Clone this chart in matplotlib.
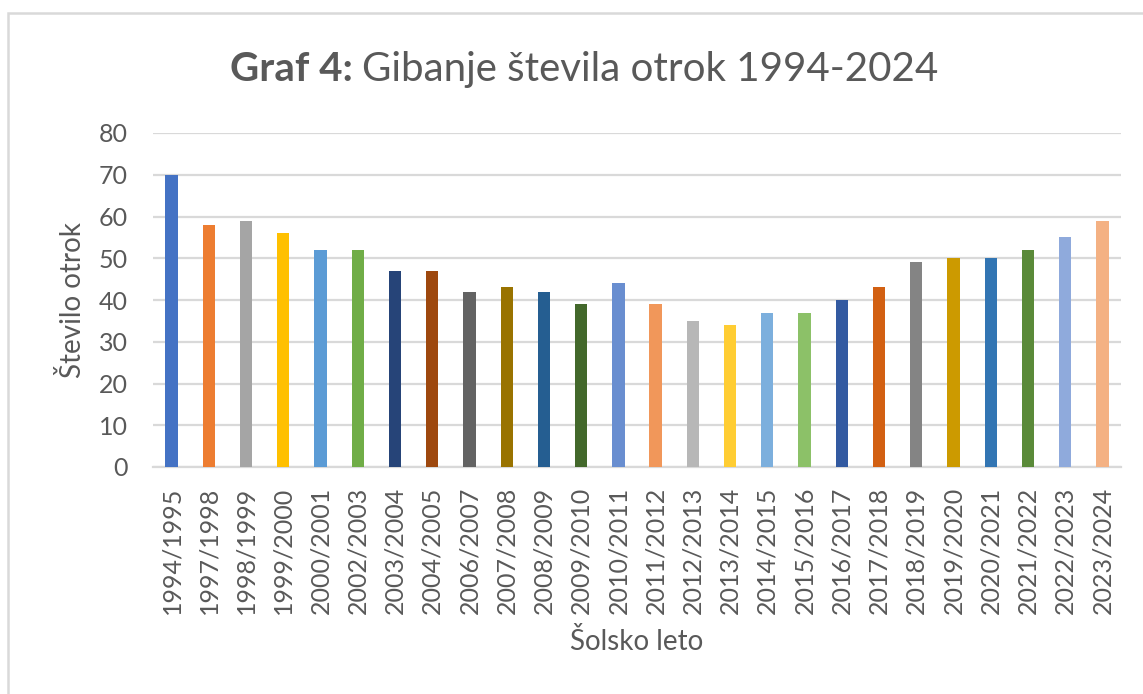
import matplotlib
matplotlib.use("Agg")
from matplotlib import pyplot as plt
from matplotlib.patches import Rectangle

# School years and number of children
years = ["1994/1995", "1997/1998", "1998/1999", "1999/2000", "2000/2001",
         "2002/2003", "2003/2004", "2004/2005", "2006/2007", "2007/2008",
         "2008/2009", "2009/2010", "2010/2011", "2011/2012", "2012/2013",
         "2013/2014", "2014/2015", "2015/2016", "2016/2017", "2017/2018",
         "2018/2019", "2019/2020", "2020/2021", "2021/2022", "2022/2023",
         "2023/2024"]
children = [70, 58, 59, 56, 52, 52, 47, 47, 42, 43, 42, 39, 44, 39, 35,
            34, 37, 37, 40, 43, 49, 50, 50, 52, 55, 59]
y_ticks = [0, 10, 20, 30, 40, 50, 60, 70, 80]

# Excel-like varied colours, one per bar
colors = ["#4472C4", "#ED7D31", "#A5A5A5", "#FFC000", "#5B9BD5", "#70AD47",
          "#264478", "#9E480E", "#636363", "#997300", "#255E91", "#43682B",
          "#698ED0", "#F1975A", "#B7B7B7", "#FFCD33", "#7CAFDD", "#8CC168",
          "#335AA1", "#D26012", "#848484", "#CC9A00", "#3275B3", "#5A8A39",
          "#8FAADC", "#F4B183"]

text_col = "#595959"
grid_col = "#D9D9D9"

plt.rcParams['font.family'] = ['Lato', 'DejaVu Sans']

fig = plt.figure(figsize=(11.43, 6.94), dpi=100)

# chart frame (only top and left edges visible in the crop)
fig.patches.append(Rectangle((8 / 1143, -0.1), 1.2, 1 - 13 / 694 + 0.1,
                             transform=fig.transFigure, fill=False,
                             edgecolor=grid_col, linewidth=1.8))

ax = fig.add_axes([153 / 1143, 1 - 467 / 694, 968 / 1143, 334 / 694])

x = range(len(years))
ax.bar(x, children, width=0.33, color=colors, zorder=3)

ax.set_xlim(-0.5, len(years) - 0.5)
ax.set_ylim(0, 80)
ax.set_yticks(y_ticks)
ax.set_xticks(list(x))
ax.set_xticklabels(years, rotation=90)
ax.tick_params(axis='both', length=0, labelsize=18, labelcolor=text_col)
ax.tick_params(axis='y', pad=18)
ax.tick_params(axis='x', pad=14)

ax.grid(axis='y', color=grid_col, linewidth=1.6, zorder=0)
for s in ['top', 'right', 'left']:
	ax.spines[s].set_visible(False)
ax.spines['bottom'].set_color(grid_col)
ax.spines['bottom'].set_linewidth(1.6)

ax.set_ylabel("Število otrok", fontsize=20, color=text_col, labelpad=9)
ax.set_xlabel("Šolsko leto", fontsize=20, color=text_col, labelpad=10)

# title: bold prefix followed by regular text, centred together
renderer = fig.canvas.get_renderer()
t1 = fig.text(0, 0, "Graf 4: ", fontsize=29, fontweight='bold', color=text_col)
t2 = fig.text(0, 0, "Gibanje števila otrok 1994-2024", fontsize=29, color=text_col)
w1 = t1.get_window_extent(renderer).width
w2 = t2.get_window_extent(renderer).width
cx = 584
base = 694 - 81
t1.set_position(((cx - (w1 + w2) / 2) / 1143, base / 694))
t2.set_position(((cx - (w1 + w2) / 2 + w1) / 1143, base / 694))

fig.savefig("out.png", dpi=100, facecolor="white")
